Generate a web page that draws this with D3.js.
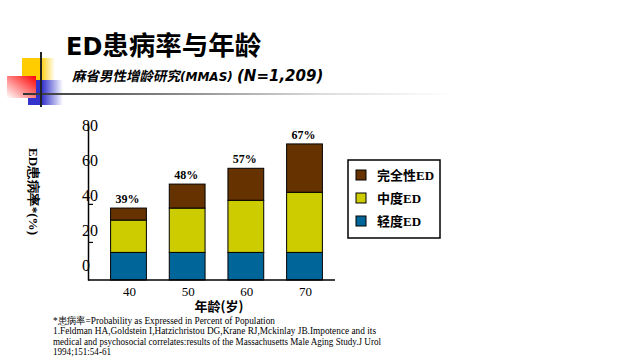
<!DOCTYPE html>
<html>
<head>
<meta charset="utf-8">
<script src="https://cdn.jsdelivr.net/npm/d3@7"></script>
<style>
  body { margin: 0; background: #fff; }
  svg { display: block; }
</style>
</head>
<body>
<svg id="chart" width="640" height="360"></svg>
<script>
/* data */
var ages = ["40", "50", "60", "70"];
var mildED = [14.5, 14.5, 14.5, 14.5];       // 轻度ED
var moderateED = [17, 23.3, 27.4, 31.6];     // 中度ED
var completeED = [6.3, 12.6, 16.8, 25.4];    // 完全性ED
var totalLabels = ["39%", "48%", "57%", "67%"];
var yTickLabels = [0, 20, 40, 60, 80];
var yTickMarks = [20, 40];
var seriesKeys = ["mild", "moderate", "complete"];
var seriesNames = { mild: "轻度ED", moderate: "中度ED", complete: "完全性ED" };
var colors = { mild: "#006699", moderate: "#CCCC00", complete: "#663300" };
var footnotes = [
  "*患病率=Probability as Expressed in Percent of Population",
  "1.Feldman HA,Goldstein I,Hatzichristou DG,Krane RJ,Mckinlay JB.Impotence and its",
  "medical and psychosocial correlates:results of the Massachusetts Male Aging Study.J Urol",
  "1994;151:54-61"
];
var footWidths = [222, 323, 328, 58];

var serif = "'Liberation Serif', 'Times New Roman', serif";
var cjk = "'Noto Sans CJK SC', sans-serif";

var rows = ages.map(function(a, i){
  return { age: a, mild: mildED[i], moderate: moderateED[i], complete: completeED[i] };
});

var svg = d3.select("#chart");
var defs = svg.append("defs");

/* decoration */
function grad(id, x1, y1, x2, y2, stops){
  var g = defs.append("linearGradient").attr("id", id)
    .attr("x1", x1).attr("y1", y1).attr("x2", x2).attr("y2", y2);
  stops.forEach(function(s){
    g.append("stop").attr("offset", s[0]).attr("stop-color", s[1]);
  });
}
grad("gYellow", 0, 0, 1, 0, [["0%", "#FFCC00"], ["55%", "#FFCC00"], ["100%", "#FFFFFF"]]);
grad("gBlue", 0, 0, 1, 0, [["0%", "#3333CC"], ["40%", "#3333CC"], ["100%", "#FFFFFF"]]);
grad("gRed", 0, 1, 1, 0, [["0%", "#FFFFFF"], ["100%", "#FF0000"]]);
grad("gLine", 0, 0, 1, 0, [["0%", "#333333"], ["70%", "#dddddd"], ["100%", "#FFFFFF"]]);

svg.append("rect").attr("x", 22).attr("y", 58).attr("width", 33).attr("height", 22).attr("fill", "url(#gYellow)");
svg.append("rect").attr("x", 28).attr("y", 80).attr("width", 35).attr("height", 25).attr("fill", "url(#gBlue)");
svg.append("rect").attr("x", 7).attr("y", 76).attr("width", 29).attr("height", 22).attr("fill", "url(#gRed)");
svg.append("rect").attr("x", 23).attr("y", 93).attr("width", 430).attr("height", 2).attr("fill", "url(#gLine)");
svg.append("rect").attr("x", 40).attr("y", 52).attr("width", 2).attr("height", 55).attr("fill", "#222");

/* titles */
var title = svg.append("text").attr("x", 66).attr("y", 55).attr("font-weight", "bold");
title.append("tspan").attr("font-family", "'DejaVu Sans', sans-serif").attr("font-size", 24).text("ED");
title.append("tspan").attr("font-family", cjk).attr("font-size", 26.5).text("患病率与年龄");

svg.append("text")
  .attr("transform", "translate(72,81) skewX(-12)")
  .attr("font-family", cjk)
  .attr("font-weight", "bold")
  .attr("font-size", 13.5)
  .text("麻省男性增龄研究");

var sub = svg.append("text").attr("x", 180).attr("y", 81)
  .attr("font-family", "'DejaVu Sans', sans-serif")
  .attr("font-weight", "bold").attr("font-style", "italic");
sub.append("tspan").attr("font-size", 12).text("(MMAS) ");
sub.append("tspan").attr("font-size", 15).text("(N=1,209)");

/* chart */
var x = d3.scaleBand().domain(ages).range([93, 340]).paddingInner(0.39).paddingOuter(0.3);
var y = d3.scaleLinear().domain([0, 82.5]).range([280, 123]);
var yLabel = d3.scaleLinear().domain([0, 80]).range([265, 125]);

var stacked = d3.stack().keys(seriesKeys)(rows);

svg.append("g").selectAll("g")
  .data(stacked)
  .join("g")
  .attr("fill", function(s){ return colors[s.key]; })
  .selectAll("rect")
  .data(function(s){ return s; })
  .join("rect")
  .attr("x", function(d){ return x(d.data.age); })
  .attr("y", function(d){ return y(d[1]); })
  .attr("width", x.bandwidth())
  .attr("height", function(d){ return y(d[0]) - y(d[1]); })
  .attr("stroke", "#000")
  .attr("stroke-width", 1);

svg.append("g").selectAll("text")
  .data(rows)
  .join("text")
  .attr("x", function(d){ return x(d.age) + x.bandwidth() / 2 - 1; })
  .attr("y", function(d){ return y(d.mild + d.moderate + d.complete) - 5; })
  .attr("text-anchor", "middle")
  .attr("font-family", serif)
  .attr("font-weight", "bold")
  .attr("font-size", 12)
  .text(function(d, i){ return totalLabels[i]; });

// y axis line + ticks
var yAxis = svg.append("g").attr("transform", "translate(88,0)")
  .call(d3.axisRight(y).tickValues(yTickMarks).tickSize(5).tickSizeOuter(0).tickFormat(""));
yAxis.select(".domain").attr("stroke", "#000").attr("stroke-width", 1.5);
yAxis.selectAll(".tick line").attr("stroke", "#000").attr("stroke-width", 1.2);

// y tick labels
var yLab = svg.append("g").attr("transform", "translate(82,0)")
  .call(d3.axisLeft(yLabel).tickValues(yTickLabels).tickSize(0));
yLab.select(".domain").remove();
yLab.selectAll("text")
  .attr("x", 0).attr("dy", "0.35em")
  .attr("text-anchor", "start")
  .attr("font-family", serif)
  .attr("font-size", 16)
  .attr("fill", "#000");

// x axis
svg.append("line").attr("x1", 88).attr("x2", 335).attr("y1", y(0)).attr("y2", y(0))
  .attr("stroke", "#000").attr("stroke-width", 1.5);
var xAxis = svg.append("g").attr("transform", "translate(1," + (y(0) + 4) + ")")
  .call(d3.axisBottom(x).tickSize(0));
xAxis.select(".domain").remove();
xAxis.selectAll("text")
  .attr("font-family", serif)
  .attr("font-size", 13)
  .attr("fill", "#000");

// axis titles
svg.append("text")
  .attr("transform", "translate(29,148) rotate(90)")
  .attr("font-family", serif)
  .attr("font-weight", "bold")
  .attr("font-size", 12.5)
  .attr("textLength", 87)
  .attr("lengthAdjust", "spacingAndGlyphs")
  .text("ED患病率*(%)");

svg.append("text")
  .attr("x", 219).attr("y", 311)
  .attr("text-anchor", "middle")
  .attr("font-family", cjk)
  .attr("font-weight", "bold")
  .attr("font-size", 13)
  .text("年龄(岁)");

/* legend */
var legend = svg.append("g");
legend.append("rect").attr("x", 348).attr("y", 160).attr("width", 92).attr("height", 78)
  .attr("fill", "#fff").attr("stroke", "#000").attr("stroke-width", 1.5);
var legendKeys = ["complete", "moderate", "mild"];
var legendY = d3.scalePoint().domain(legendKeys).range([175, 221]);
legend.selectAll("rect.sw")
  .data(legendKeys)
  .join("rect")
  .attr("class", "sw")
  .attr("x", 356)
  .attr("y", function(k){ return legendY(k) - 5; })
  .attr("width", 10).attr("height", 10)
  .attr("fill", function(k){ return colors[k]; })
  .attr("stroke", "#000").attr("stroke-width", 1);
legend.selectAll("text")
  .data(legendKeys)
  .join("text")
  .attr("x", 377)
  .attr("y", function(k){ return legendY(k) + 4.5; })
  .attr("font-family", cjk)
  .attr("font-weight", "bold")
  .attr("font-size", 13)
  .each(function(k){
    var t = d3.select(this);
    var name = seriesNames[k];
    t.append("tspan").text(name.replace("ED", ""));
    t.append("tspan").attr("font-family", serif).text("ED");
  });

/* footnotes */
svg.append("g").selectAll("text")
  .data(footnotes)
  .join("text")
  .attr("x", 53)
  .attr("y", function(d, i){ return 323.5 + i * 10.6; })
  .attr("font-family", serif)
  .attr("font-size", 10)
  .attr("textLength", function(d, i){ return footWidths[i]; })
  .attr("lengthAdjust", "spacingAndGlyphs")
  .text(function(d){ return d; });
</script>
</body>
</html>
